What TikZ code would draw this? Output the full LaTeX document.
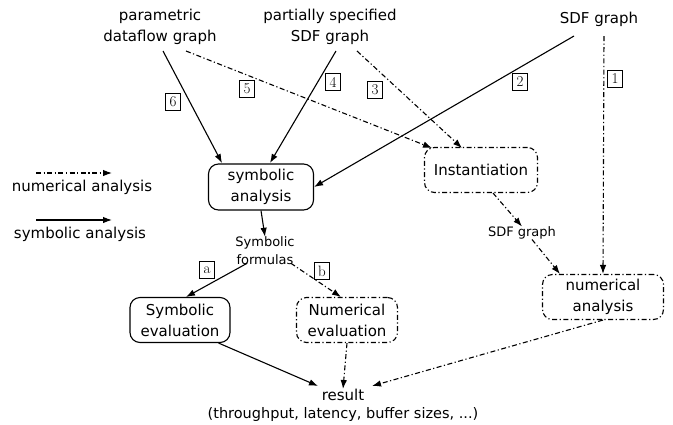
\documentclass[tikz,border=0pt]{standalone}
\usepackage{fontspec}
\setmainfont{DejaVu Sans}
\newfontfamily\lmr{Latin Modern Roman}
\usetikzlibrary{arrows.meta}
\begin{document}
\begin{tikzpicture}[x=1pt,y=-1pt,
  txt/.style={font=\fontsize{15}{21}\selectfont, align=center, inner sep=0pt},
  small/.style={font=\fontsize{13}{18}\selectfont, align=center, inner sep=0pt},
  proc/.style={draw, rounded corners=10pt, line width=1.1pt, font=\fontsize{15}{21}\selectfont, align=center, inner xsep=2pt, inner ysep=2pt},
  sym/.style={-{Latex[length=9pt,width=6.5pt]}, line width=1.1pt},
  num/.style={-{Latex[length=9pt,width=6.5pt]}, line width=1.1pt, dash pattern=on 5pt off 2.5pt on 1.2pt off 2.5pt},
  numbox/.style={proc, dash pattern=on 5pt off 2.5pt on 1.2pt off 2.5pt},
  tag/.style={draw, line width=0.6pt, inner sep=1pt, font=\lmr\fontsize{15}{15}\selectfont, minimum width=15pt, minimum height=17pt}
]
\useasboundingbox (0,0) rectangle (673,424);
% sources
\node[txt] (pdg) at (160,27) {parametric\\dataflow graph};
\node[txt] (pss) at (330,27) {partially specified\\SDF graph};
\node[txt] (sdf) at (599,19) {SDF graph};
% processes
\node[proc, minimum width=105pt, minimum height=46pt] (sa) at (261,187) {symbolic\\analysis};
\node[numbox, minimum width=113pt, minimum height=45pt] (inst) at (481,170) {Instantiation};
\node[numbox, minimum width=121pt, minimum height=45pt] (na) at (603,297) {numerical\\analysis};
\node[proc, minimum width=100pt, minimum height=45pt] (se) at (180,320) {Symbolic\\evaluation};
\node[numbox, minimum width=101pt, minimum height=45pt] (ne) at (347,320) {Numerical\\evaluation};
% intermediate texts
\node[small] (sf) at (265,251) {Symbolic\\formulas};
\node[small] (sdf2) at (522,233) {SDF graph};
\node[txt] (res) at (343,395) {result};
\node[font=\fontsize{14.5}{16}\selectfont, inner sep=0pt] (resd) at (343,414) {(throughput, latency, buffer sizes, ...)};
% coordinates
\coordinate (p6) at (163,51);
\coordinate (p5) at (186,51);
\coordinate (p4) at (336,51);
\coordinate (p3) at (357,51);
\coordinate (p2) at (574,36);
\coordinate (p1) at (604,36);
% edges
\draw[sym] (p6) -- (222,163);
\draw[num] (p5) -- (432,148);
\draw[sym] (p4) -- (270,163);
\draw[num] (p3) -- (462,148);
\draw[sym] (p2) -- (sa.east);
\draw[num] (p1) -- (na.north);
\draw[num] (inst.south) ++(12,0) coordinate (ib) (ib) -- (sdf2.north);
\draw[num] (sdf2.south) ++(10,0) coordinate (sb) (sb) -- (560,274);
\draw[sym] (sa.south) -- (sf.north);
\draw[sym] (sf.south west) ++(12,-2) coordinate (sfa) (sfa) -- (186,297);
\draw[num] (sf.south east) ++(-4,-2) coordinate (sfb) (sfb) -- (341,297);
\draw[sym] (se.south east) ++(-12,0) coordinate (seb) (seb) -- (318,386);
\draw[num] (ne.south) -- (res.north);
\draw[num] (na.south) -- (372,386);
% tags
\node[tag] at (173,102) {6};
\node[tag] at (247,89) {5};
\node[tag] at (333,82) {4};
\node[tag] at (375,90) {3};
\node[tag] at (520,82) {2};
\node[tag] at (615,79) {1};
\node[tag] at (207,270) {a};
\node[tag] at (322,271) {b};
% legend
\coordinate (l1a) at (36,173); \coordinate (l1b) at (112,173);
\coordinate (l2a) at (36,220); \coordinate (l2b) at (112,220);
\draw[num] (l1a) -- (l1b);
\draw[sym] (l2a) -- (l2b);
\node[txt] (ln) at (82,187) {numerical analysis};
\node[txt] (ls) at (80,234) {symbolic analysis};
\end{tikzpicture}
\end{document}
